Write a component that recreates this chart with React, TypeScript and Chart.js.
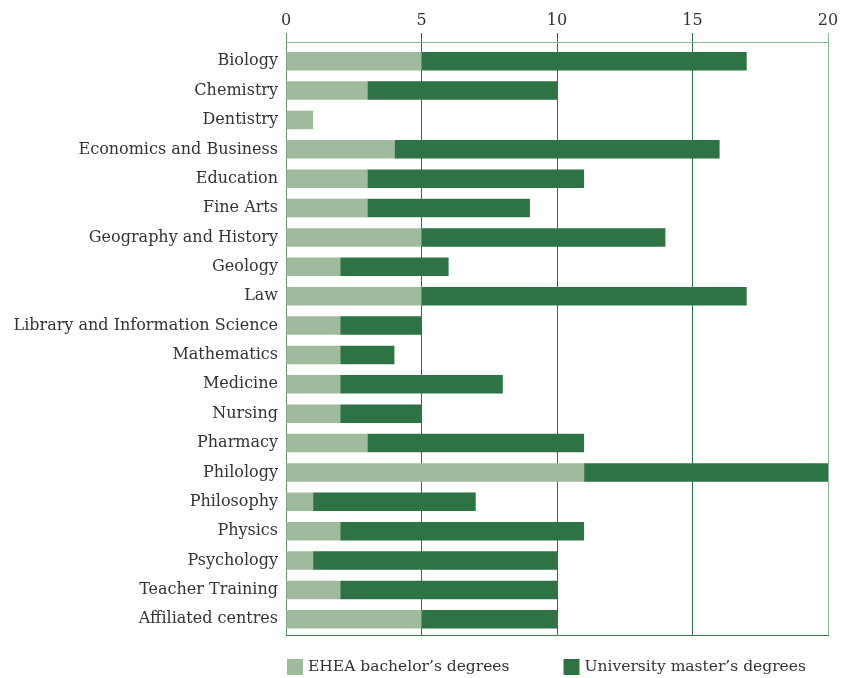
import { useEffect, useRef } from 'react';
import { Chart, registerables } from 'chart.js';

Chart.register(...registerables);

const categories = [
  'Biology',
  'Chemistry',
  'Dentistry',
  'Economics and Business',
  'Education',
  'Fine Arts',
  'Geography and History',
  'Geology',
  'Law',
  'Library and Information Science',
  'Mathematics',
  'Medicine',
  'Nursing',
  'Pharmacy',
  'Philology',
  'Philosophy',
  'Physics',
  'Psychology',
  'Teacher Training',
  'Affiliated centres',
];

const bachelorDegrees = [5, 3, 1, 4, 3, 3, 5, 2, 5, 2, 2, 2, 2, 3, 11, 1, 2, 1, 2, 5];
const masterDegrees = [12, 7, 0, 12, 8, 6, 9, 4, 12, 3, 2, 6, 3, 8, 9, 6, 9, 9, 8, 5];

const seriesLabels = ['EHEA bachelor\u2019s degrees', 'University master\u2019s degrees'];
const xTicks = [0, 5, 10, 15, 20];

const LIGHT = '#9fba9d';
const DARK = '#2e7343';
const EDGE_LIGHT = '#8db594';
const TEXT = '#333333';
const FONT = '"DejaVu Serif", serif';

// extra room above the first category, as a fraction of a category band
const TOP_GAP = 0.155;
const BOTTOM_GAP = 0.035;

const categoryShiftPlugin = {
  id: 'categoryShift',
  afterLayout(chart: any) {
    const y = chart.scales.y;
    y._startValue = -0.5 - TOP_GAP;
    y._valueRange = categories.length + TOP_GAP + BOTTOM_GAP;
  },
};

const legendPlugin = {
  id: 'bottomLegend',
  afterDraw(chart: any) {
    const { ctx, chartArea } = chart;
    ctx.save();
    ctx.font = `15.5px ${FONT}`;
    ctx.textBaseline = 'middle';
    ctx.textAlign = 'left';
    let x = chartArea.left + 1;
    const y = chartArea.bottom + 32;
    chart.data.datasets.forEach((ds: any) => {
      ctx.fillStyle = ds.backgroundColor;
      ctx.fillRect(x, y - 8, 16, 16);
      ctx.fillStyle = TEXT;
      ctx.fillText(ds.label, x + 21, y);
      x += 21 + ctx.measureText(ds.label).width + 54;
    });
    ctx.restore();
  },
};

export default function App() {
  const ref = useRef<HTMLCanvasElement>(null);

  useEffect(() => {
    document.body.style.margin = '0';
    const chart = new Chart(ref.current!, {
      type: 'bar',
      data: {
        labels: categories,
        datasets: [
          {
            label: seriesLabels[0],
            data: bachelorDegrees,
            backgroundColor: LIGHT,
            barPercentage: 0.63,
            categoryPercentage: 1,
          },
          {
            label: seriesLabels[1],
            data: masterDegrees,
            backgroundColor: DARK,
            barPercentage: 0.63,
            categoryPercentage: 1,
          },
        ],
      },
      options: {
        indexAxis: 'y',
        animation: false,
        responsive: true,
        maintainAspectRatio: false,
        layout: { padding: { top: 0, left: 0, right: 29, bottom: 43 } },
        plugins: {
          legend: { display: false },
          tooltip: { enabled: false },
        },
        scales: {
          x: {
            position: 'top',
            stacked: true,
            min: 0,
            max: 20,
            afterFit: (scale: any) => {
              scale.height = 42;
            },
            afterBuildTicks: (scale: any) => {
              scale.ticks = xTicks.map((v) => ({ value: v }));
            },
            ticks: {
              color: TEXT,
              padding: 3,
              font: { family: FONT, size: 16 },
            },
            grid: {
              tickLength: 9,
              lineWidth: 1,
              color: (ctx: any) => {
                const v = ctx.tick ? ctx.tick.value : null;
                if (v === 0) return '#5f9a6d';
                if (v === 20) return EDGE_LIGHT;
                return DARK;
              },
            },
            border: { display: true, color: EDGE_LIGHT, width: 1 },
          },
          x2: {
            type: 'linear',
            position: 'bottom',
            min: 0,
            max: 20,
            afterFit: (scale: any) => {
              scale.height = 0;
            },
            ticks: { display: false },
            grid: { display: false, drawTicks: false },
            border: { display: true, color: '#3d7d50', width: 1 },
          },
          y: {
            stacked: true,
            afterFit: (scale: any) => {
              scale.width = 286;
            },
            ticks: {
              color: TEXT,
              padding: 8,
              font: { family: FONT, size: 16 },
            },
            grid: { display: false, drawTicks: false },
            border: { display: false },
          },
        },
      },
      plugins: [categoryShiftPlugin, legendPlugin],
    });
    return () => chart.destroy();
  }, []);

  return (
    <div style={{ width: 857, height: 678, position: 'relative' }}>
      <canvas ref={ref} />
    </div>
  );
}
